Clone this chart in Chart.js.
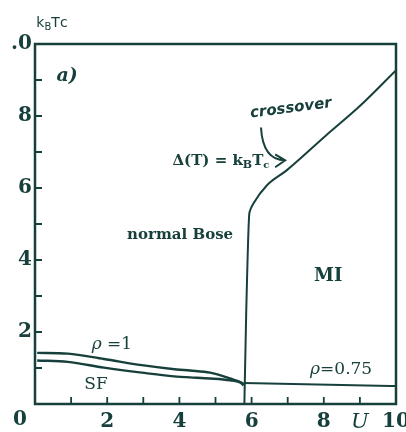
<!DOCTYPE html>
<html>
<head>
<meta charset="utf-8">
<script src="https://cdn.jsdelivr.net/npm/chart.js@4/dist/chart.umd.min.js"></script>
<style>
  html, body { margin: 0; padding: 0; background: #fff; }
  #wrap { width: 406px; height: 432px; }
</style>
</head>
<body>
<div id="wrap"><canvas id="phase" width="406" height="432"></canvas></div>
<script>
// phase diagram k_B T_c versus U
const rho1U  = [0.06, 0.91, 1.91, 2.96, 3.93, 4.29, 4.85, 5.40, 5.73, 5.79];
const rho1Tc = [1.42, 1.40, 1.25, 1.08, 0.96, 0.93, 0.87, 0.71, 0.59, 0.55];
const sfU    = [0.06, 0.91, 1.91, 2.96, 3.93, 4.29, 4.85, 5.40, 5.68, 5.78];
const sfTc   = [1.21, 1.17, 1.01, 0.87, 0.76, 0.74, 0.71, 0.66, 0.60, 0.52];
const rho075U  = [5.79, 10];
const rho075Tc = [0.58, 0.50];
const miU  = [5.80, 5.85, 5.93, 5.96, 6.05, 6.42, 6.97, 8.06, 8.99, 9.99];
const miTc = [0.00, 2.50, 5.21, 5.38, 5.57, 6.07, 6.49, 7.46, 8.27, 9.26];

const xTickLabels = { 2: '2', 4: '4', 6: '6', 8: '8', 9: 'U', 10: '10' };
const yTickLabels = { 2: '2', 4: '4', 6: '6', 8: '8', 10: '.0' };

const ink = '#17403c';
const serif = '"DejaVu Serif", "Liberation Serif", serif';

// text placed in data units (U, kT)
const notes = [
  { parts: [{ s: 'a)', f: 'italic bold 19px ' + serif }], u: 0.89, t: 9.10 },
  { parts: [{ s: 'normal Bose', f: 'bold 15px ' + serif }], u: 4.02, t: 4.69 },
  { parts: [{ s: 'MI', f: 'bold 18px ' + serif }], u: 8.12, t: 3.55 },
  { parts: [{ s: 'SF', f: '17px ' + serif }], u: 1.69, t: 0.55 },
  { parts: [{ s: 'ρ', f: 'italic 17px ' + serif }, { s: ' =1', f: '17px ' + serif }], u: 2.13, t: 1.66 },
  { parts: [{ s: 'ρ', f: 'italic 17px ' + serif }, { s: '=0.75', f: '17px ' + serif }], u: 8.48, t: 0.97 },
  { parts: [{ s: 'Δ(T) = k', f: 'bold 15px ' + serif }, { s: 'B', f: 'bold 11px ' + serif, sub: 4 },
            { s: 'T', f: 'bold 15px ' + serif }, { s: 'c', f: 'bold 10px ' + serif, sub: 4 }], u: 5.15, t: 6.74 },
  { parts: [{ s: 'k', f: '14px "DejaVu Sans"' }, { s: 'B', f: '10px "DejaVu Sans"', sub: 4 },
            { s: 'T', f: '14px "DejaVu Sans"' }, { s: 'c', f: '14px "DejaVu Sans"' }], u: 0.47, t: 10.58 },
  { parts: [{ s: 'crossover', f: 'italic bold 15px "DejaVu Sans"' }], u: 7.09, t: 8.21, rot: -0.13 }
];

function drawParts(ctx, n, x, y) {
  let w = 0;
  n.parts.forEach(p => { ctx.font = p.f; w += ctx.measureText(p.s).width; });
  ctx.save();
  ctx.translate(x, y);
  if (n.rot) ctx.rotate(n.rot);
  let cx = -w / 2;
  ctx.textBaseline = 'middle';
  ctx.textAlign = 'left';
  n.parts.forEach(p => {
    ctx.font = p.f;
    ctx.fillText(p.s, cx, p.sub || 0);
    cx += ctx.measureText(p.s).width;
  });
  ctx.restore();
}

const decor = {
  id: 'decor',
  afterDraw(chart) {
    const { ctx, chartArea: a, scales: { x, y } } = chart;
    ctx.save();
    ctx.strokeStyle = ink;
    ctx.fillStyle = ink;
    ctx.lineWidth = 2.5;
    ctx.strokeRect(a.left, a.top, a.right - a.left, a.bottom - a.top);

    // inward ticks
    ctx.lineWidth = 1.8;
    ctx.beginPath();
    x.ticks.forEach(tk => {
      if (tk.value <= 0 || tk.value >= 10) return;
      const px = x.getPixelForValue(tk.value);
      ctx.moveTo(px, a.bottom); ctx.lineTo(px, a.bottom - 7);
    });
    y.ticks.forEach(tk => {
      if (tk.value <= 0 || tk.value >= 10) return;
      const py = y.getPixelForValue(tk.value);
      ctx.moveTo(a.left, py); ctx.lineTo(a.left + 7, py);
    });
    ctx.stroke();

    // shared origin label
    ctx.font = 'bold 20px ' + serif;
    ctx.textAlign = 'center';
    ctx.textBaseline = 'middle';
    ctx.fillText('0', a.left - 15, a.bottom + 16);

    notes.forEach(n => drawParts(ctx, n, x.getPixelForValue(n.u), y.getPixelForValue(n.t)));

    // curved arrow from "crossover" to the line
    const sx = x.getPixelForValue(6.26), sy = y.getPixelForValue(7.68);
    const cx = x.getPixelForValue(6.31), cy = y.getPixelForValue(6.77);
    const ex = x.getPixelForValue(6.93), ey = y.getPixelForValue(6.77);
    ctx.lineWidth = 2;
    ctx.beginPath();
    ctx.moveTo(sx, sy);
    ctx.quadraticCurveTo(cx, cy, ex, ey);
    ctx.moveTo(ex - 10, ey - 6); ctx.lineTo(ex, ey); ctx.lineTo(ex - 10, ey + 7);
    ctx.stroke();
    ctx.restore();
  }
};

function series(us, ts, width) {
  return {
    data: us.map((u, i) => ({ x: u, y: ts[i] })),
    showLine: true, borderColor: ink, borderWidth: width,
    pointRadius: 0, cubicInterpolationMode: 'monotone', fill: false
  };
}

new Chart(document.getElementById('phase'), {
  type: 'scatter',
  data: {
    datasets: [
      series(rho1U, rho1Tc, 2.4),
      series(sfU, sfTc, 2.4),
      series(rho075U, rho075Tc, 2),
      series(miU, miTc, 2)
    ]
  },
  options: {
    responsive: false,
    animation: false,
    layout: { padding: { top: 44, right: 10, left: 0, bottom: 0 } },
    plugins: { legend: { display: false }, tooltip: { enabled: false } },
    scales: {
      x: {
        type: 'linear', min: 0, max: 10,
        grid: { display: false, drawTicks: false, tickLength: 0 }, border: { display: false },
        ticks: {
          stepSize: 1, autoSkip: false, maxRotation: 0, padding: 6, color: ink,
          font: c => (c.tick && c.tick.value === 9)
            ? { family: serif, style: 'italic', size: 21 }
            : { family: serif, weight: 'bold', size: 20 },
          callback: v => xTickLabels[v] || ''
        },
        afterFit: s => { s.height = 28; s.paddingLeft = 0; s.paddingRight = 0; }
      },
      y: {
        min: 0, max: 10,
        grid: { display: false, drawTicks: false, tickLength: 0 }, border: { display: false },
        ticks: {
          stepSize: 1, autoSkip: false, padding: 3, color: ink,
          font: { family: serif, weight: 'bold', size: 20 },
          callback: v => yTickLabels[v] || ''
        },
        afterFit: s => { s.width = 35; s.paddingTop = 0; s.paddingBottom = 0; }
      }
    }
  },
  plugins: [decor]
});
</script>
</body>
</html>
